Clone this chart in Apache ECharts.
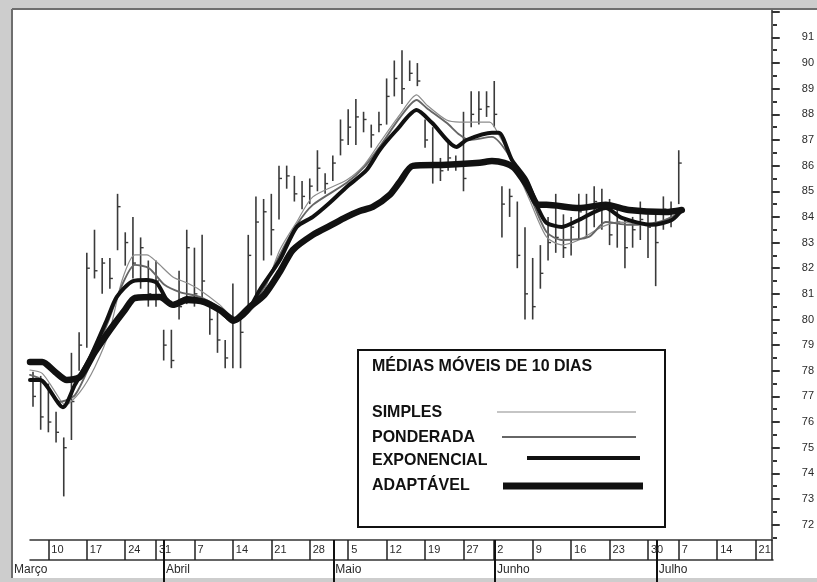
<!DOCTYPE html>
<html><head><meta charset="utf-8">
<script src="https://cdn.jsdelivr.net/npm/echarts@6/dist/echarts.min.js"></script>
<style>html,body{margin:0;padding:0;background:#cdcdcd}#c{width:817px;height:582px}</style>
</head><body><div id="c"></div>
<script>
// trading days (MM-DD), 1997; bars exist for the first 85
const days = [
 '03-06','03-07','03-10','03-11','03-12','03-13','03-14','03-17','03-18','03-19','03-20','03-21','03-24','03-25','03-26','03-27','03-31',
 '04-01','04-02','04-03','04-04','04-07','04-08','04-09','04-10','04-11','04-14','04-15','04-16','04-17','04-18','04-21','04-22','04-23','04-24','04-25','04-28','04-29','04-30',
 '05-01','05-02','05-05','05-06','05-07','05-08','05-09','05-12','05-13','05-14','05-15','05-16','05-19','05-20','05-21','05-22','05-23','05-27','05-28','05-29','05-30',
 '06-02','06-03','06-04','06-05','06-06','06-09','06-10','06-11','06-12','06-13','06-16','06-17','06-18','06-19','06-20','06-23','06-24','06-25','06-26','06-27','06-30',
 '07-01','07-02','07-03','07-07',
 '07-08','07-09','07-10','07-11','07-14','07-15','07-16','07-17','07-18','07-21'
];
const highs = [77.96,77.8,77.5,76.4,75.4,78.7,79.5,82.6,83.5,82.4,82.4,84.9,83.4,84.0,83.2,82.3,82.3,79.6,79.6,81.9,83.5,82.8,83.3,80.5,80.4,79.2,81.4,80.1,83.3,84.8,84.7,84.9,86.0,86.0,85.6,85.4,85.5,86.6,85.7,86.4,87.8,88.2,88.6,88.1,87.6,88.1,89.4,90.1,90.5,90.1,90.0,87.8,87.5,86.3,86.9,86.4,88.1,88.9,88.9,88.9,89.3,85.2,85.1,84.6,83.6,82.4,82.9,84.0,84.9,84.1,84.0,84.9,84.9,85.2,85.1,84.7,84.3,84.0,84.0,84.6,84.1,84.1,84.8,84.6,86.6];
const lows = [76.6,75.7,75.6,75.2,73.1,75.3,78.0,78.9,81.6,81.0,81.2,82.7,82.1,81.6,81.2,80.5,80.5,78.4,78.1,80.0,80.6,80.5,80.7,79.4,78.7,78.1,78.1,78.1,80.4,80.9,82.3,82.5,83.9,85.1,84.6,84.3,84.5,85.0,84.9,85.4,86.4,86.8,86.8,87.3,86.7,87.3,87.6,88.7,88.4,89.3,89.1,86.7,85.3,85.4,85.8,85.8,85.0,87.5,87.6,87.9,87.5,83.2,84.0,82.0,80.0,80.0,81.2,82.3,82.6,82.4,82.5,83.1,83.2,83.6,83.5,82.9,82.8,82.0,82.8,83.1,82.4,81.3,83.5,83.6,84.5];
const closes = [77.0,76.2,76.0,75.6,75.0,76.8,79.0,82.0,81.9,82.2,81.6,84.4,83.0,82.2,82.8,81.0,81.5,79.0,78.4,80.5,82.8,81.0,81.5,80.0,79.2,78.5,80.0,79.5,82.5,83.8,84.2,83.5,85.5,85.6,84.9,84.8,85.2,85.9,85.3,86.1,87.0,87.5,87.9,87.8,87.2,87.6,88.7,89.4,89.0,89.6,89.3,87.0,86.0,85.8,86.3,86.0,85.5,88.0,88.2,88.3,88.0,84.5,84.8,82.5,81.0,80.5,81.8,83.0,83.2,82.8,83.6,84.2,84.4,84.6,84.5,83.3,83.8,82.8,83.5,83.9,83.6,83.0,84.3,84.0,86.1];

// moving averages: [trading-day position, value]
const maSimples = [[-0.39,78.03],[1.2,77.9],[2.9,77.17],[4.2,76.66],[6.1,77.17],[8.05,78.15],[10.0,79.59],[11.6,81.54],[13.25,82.52],[14.8,82.52],[16.1,82.24],[18.2,81.66],[20.0,81.43],[21.7,81.15],[24.3,80.57],[26.2,80.06],[28.2,80.3],[30.1,81.15],[32.1,82.71],[34.3,83.8],[36.4,84.78],[40.8,85.44],[43.1,86.03],[45.1,86.89],[47.7,87.98],[49.9,88.76],[51.2,88.37],[53.8,87.78],[55.5,87.7],[59.4,87.7],[60.6,87.2],[62.3,86.22],[64.6,84.66],[66.8,83.22],[68.8,82.91],[71.0,83.1],[74.0,83.61],[76.2,83.8],[80.1,83.69],[84.4,84.19]];
const maPonderada = [[-0.39,77.84],[1.2,77.64],[3.5,76.79],[5.45,77.05],[7.4,78.23],[9.6,79.79],[11.6,81.35],[13.25,82.13],[15.1,82.0],[17.1,81.35],[19.1,81.07],[21.7,80.88],[24.3,80.45],[26.2,79.98],[28.2,80.37],[30.1,81.27],[32.1,82.52],[34.3,83.69],[36.4,84.47],[40.8,85.33],[43.1,85.95],[45.1,86.73],[47.7,87.86],[49.9,88.56],[51.2,88.25],[53.8,87.67],[55.5,87.2],[56.75,87.0],[59.7,87.12],[62.3,86.22],[64.6,84.86],[66.8,83.41],[68.8,83.1],[72.3,83.22],[74.5,83.8],[77.5,83.69],[81.4,83.8],[84.4,84.19]];
const maExponencial = [[-0.39,77.64],[0.9,77.64],[3.9,76.58],[5.45,77.45],[7.4,78.5],[9.6,79.98],[10.9,80.88],[13.0,81.5],[14.8,81.54],[16.1,81.43],[17.4,80.76],[18.2,80.57],[20.0,80.84],[21.7,80.76],[24.3,80.37],[26.0,79.9],[27.8,80.26],[29.5,81.15],[32.1,82.32],[34.3,83.61],[36.4,84.0],[38.6,84.55],[40.8,85.17],[43.4,85.83],[45.1,86.61],[47.3,87.39],[49.9,88.17],[51.9,87.67],[55.1,86.73],[56.4,87.0],[59.7,87.28],[60.6,87.28],[62.3,86.22],[64.2,85.44],[65.8,84.27],[66.8,83.77],[68.8,83.61],[71.0,83.88],[74.5,84.35],[76.6,83.96],[80.5,83.69],[83.1,83.88],[84.4,84.27]];
const maAdaptavel = [[-0.39,78.34],[1.2,78.34],[2.9,77.95],[4.4,77.64],[6.1,77.76],[8.05,78.73],[10.0,79.59],[11.95,80.37],[13.25,80.84],[16.5,80.88],[18.2,80.57],[20.0,80.76],[22.3,80.68],[24.3,80.37],[26.2,79.98],[28.2,80.49],[30.1,80.96],[32.1,81.85],[33.8,82.71],[36.4,83.3],[38.6,83.65],[40.8,84.0],[42.5,84.23],[44.2,84.39],[46.4,84.86],[47.7,85.36],[49.4,85.99],[53.8,86.03],[58.1,86.11],[59.7,86.18],[61.3,86.11],[62.6,85.91],[64.2,85.25],[65.8,84.47],[66.8,84.47],[71.0,84.35],[74.5,84.47],[77.5,84.27],[82.3,84.19],[84.4,84.27]];

const weekTickDays = ['03-10','03-17','03-24','03-31','04-07','04-14','04-21','04-28','05-05','05-12','05-19','05-27','06-02','06-09','06-16','06-23','06-30','07-07','07-14','07-21'];
const weekTickLabels = ['10','17','24','31','7','14','21','28','5','12','19','27','2','9','16','23','30','7','14','21'];
const monthNames = ['Março','Abril','Maio','Junho','Julho'];
const monthFirstDays = [null,'04-01','05-01','06-02','07-01'];
const priceTickLabels = [72,73,74,75,76,77,78,79,80,81,82,83,84,85,86,87,88,89,90,91];
const legendTitle = 'MÉDIAS MÓVEIS DE 10 DIAS';
const seriesNames = ['SIMPLES','PONDERADA','EXPONENCIAL','ADAPTÁVEL'];

const X_MIN = -0.39, X_MAX = 96.1, X_MIN_MONTH = -2.73;
const Y_MIN = 71.4, Y_MAX = 92.05;
const weekIdx = weekTickDays.map(d => days.indexOf(d));
const monthIdx = monthFirstDays.map(d => d === null ? X_MIN_MONTH : days.indexOf(d));
const majorTicks = priceTickLabels.concat([priceTickLabels[priceTickLabels.length-1] + 1]);
const minorTicks = majorTicks.map(v => v - 0.5);
const bars = highs.map((h, i) => [i, h, lows[i], closes[i]]);

const styles = {
  SIMPLES: {color:'#8c8c8c', width:1.2},
  PONDERADA: {color:'#666', width:1.9},
  EXPONENCIAL: {color:'#111', width:4},
  'ADAPTÁVEL': {color:'#111', width:6.5}
};
const maData = {SIMPLES: maSimples, PONDERADA: maPonderada, EXPONENCIAL: maExponencial, 'ADAPTÁVEL': maAdaptavel};

const axisFont = {fontFamily:'Liberation Sans, Arial, sans-serif', fontSize:11, color:'#2a2a2a'};
const legFont = 'bold 17px "Liberation Sans", Arial, sans-serif';
const gridBox = {top:10.5, bottom:42, right:44};

const chart = echarts.init(document.getElementById('c'), null, {renderer:'canvas'});
chart.setOption({
  animation:false,
  backgroundColor:'#cdcdcd',
  grid:[
    Object.assign({left:30}, gridBox),
    Object.assign({left:12}, gridBox),
    Object.assign({left:30}, gridBox)
  ],
  xAxis:[
    {type:'value', gridIndex:0, min:X_MIN, max:X_MAX, position:'bottom',
     axisLine:{show:true, onZero:false, lineStyle:{color:'#333', width:1.5}},
     axisTick:{show:true, inside:false, length:20, customValues: weekIdx.concat([X_MAX]), lineStyle:{color:'#222', width:1.5}},
     axisLabel:{show:true, customValues: weekIdx, margin:4, align:'left', padding:[0,0,0,3],
       formatter: v => { const k = weekIdx.indexOf(Math.round(v)); return k >= 0 ? weekTickLabels[k] : ''; }, ...axisFont},
     splitLine:{show:false}},
    {type:'value', gridIndex:1, min:X_MIN_MONTH, max:X_MAX, position:'bottom',
     axisLine:{show:false, onZero:false},
     axisTick:{show:true, inside:false, length:42, customValues: monthIdx.slice(1), lineStyle:{color:'#111', width:2}},
     axisLabel:{show:true, customValues: monthIdx, margin:24, align:'left', padding:[0,0,0,2],
       formatter: v => { let k = 0, b = 1e9; monthIdx.forEach((m,j)=>{ if (Math.abs(m-v) < b){b=Math.abs(m-v); k=j;} }); return monthNames[k]; },
       fontFamily:'Liberation Sans, Arial, sans-serif', fontSize:12, color:'#2a2a2a'},
     splitLine:{show:false}},
    {type:'value', gridIndex:2, min:X_MIN, max:X_MAX, position:'bottom', offset:20,
     axisLine:{show:true, onZero:false, lineStyle:{color:'#333', width:1.5}},
     axisTick:{show:false}, axisLabel:{show:false}, splitLine:{show:false}}
  ],
  yAxis:[
    {type:'value', gridIndex:0, position:'right', min:Y_MIN, max:Y_MAX,
     axisLine:{show:true, onZero:false, lineStyle:{color:'#333', width:1.5}},
     axisTick:{show:true, inside:false, length:8, customValues: majorTicks, lineStyle:{color:'#333', width:2}},
     axisLabel:{show:true, customValues: priceTickLabels, margin:30, align:'left', padding:[3,0,0,0], ...axisFont},
     splitLine:{show:false}},
    {type:'value', gridIndex:1, position:'right', min:Y_MIN, max:Y_MAX,
     axisLine:{show:false, onZero:false},
     axisTick:{show:true, inside:false, length:4, customValues: minorTicks, lineStyle:{color:'#333', width:2}},
     axisLabel:{show:false}, splitLine:{show:false}},
    {type:'value', gridIndex:2, position:'right', show:false, min:Y_MIN, max:Y_MAX, axisLine:{onZero:false}}
  ],
  series:[
    {type:'custom', name:'barras', xAxisIndex:0, yAxisIndex:0, data:bars, encode:{x:0, y:[1,2,3]}, z:2,
     renderItem:(params, api) => {
       const i = api.value(0);
       const hi = api.coord([i, api.value(1)]);
       const lo = api.coord([i, api.value(2)]);
       const cl = api.coord([i, api.value(3)]);
       return {type:'group', children:[
         {type:'line', shape:{x1:hi[0], y1:hi[1], x2:lo[0], y2:lo[1]}, style:{stroke:'#3a3a3a', lineWidth:1.6}},
         {type:'line', shape:{x1:cl[0], y1:cl[1], x2:cl[0]+3, y2:cl[1]}, style:{stroke:'#3a3a3a', lineWidth:1.4}}
       ]};
     }}
  ].concat(seriesNames.map((n, k) => ({
    type:'line', name:n, xAxisIndex:0, yAxisIndex:0, data:maData[n], showSymbol:false, symbol:'none',
    smooth:0.25, z:3+k, lineStyle:{color:styles[n].color, width:styles[n].width, cap:'round', join:'round'}
  }))),
  graphic:[
    {type:'rect', z:-100, silent:true, shape:{x:12, y:9, width:805, height:569}, style:{fill:'#fff'}},
    {type:'line', z:-99, silent:true, shape:{x1:12, y1:9, x2:817, y2:9}, style:{stroke:'#6e6e6e', lineWidth:2}},
    {type:'line', z:-99, silent:true, shape:{x1:12, y1:9, x2:12, y2:578}, style:{stroke:'#6e6e6e', lineWidth:2}},
    {type:'rect', z:100, shape:{x:358, y:350, width:307, height:177}, style:{fill:'#fff', stroke:'#111', lineWidth:2}},
    {type:'text', z:101, x:372, y:366, scaleX:0.94, style:{text:legendTitle, font:legFont, fill:'#111', verticalAlign:'middle'}},
    {type:'text', z:101, x:372, y:412, scaleX:0.94, style:{text:seriesNames[0], font:legFont, fill:'#111', verticalAlign:'middle'}},
    {type:'text', z:101, x:372, y:437, scaleX:0.94, style:{text:seriesNames[1], font:legFont, fill:'#111', verticalAlign:'middle'}},
    {type:'text', z:101, x:372, y:460, scaleX:0.94, style:{text:seriesNames[2], font:legFont, fill:'#111', verticalAlign:'middle'}},
    {type:'text', z:101, x:372, y:485, scaleX:0.94, style:{text:seriesNames[3], font:legFont, fill:'#111', verticalAlign:'middle'}},
    {type:'line', z:101, shape:{x1:497, y1:412, x2:636, y2:412}, style:{stroke:styles.SIMPLES.color, lineWidth:styles.SIMPLES.width}},
    {type:'line', z:101, shape:{x1:502, y1:437, x2:636, y2:437}, style:{stroke:styles.PONDERADA.color, lineWidth:styles.PONDERADA.width}},
    {type:'line', z:101, shape:{x1:527, y1:458, x2:640, y2:458}, style:{stroke:styles.EXPONENCIAL.color, lineWidth:styles.EXPONENCIAL.width}},
    {type:'line', z:101, shape:{x1:503, y1:486, x2:643, y2:486}, style:{stroke:styles['ADAPTÁVEL'].color, lineWidth:7}}
  ]
});
</script></body></html>
